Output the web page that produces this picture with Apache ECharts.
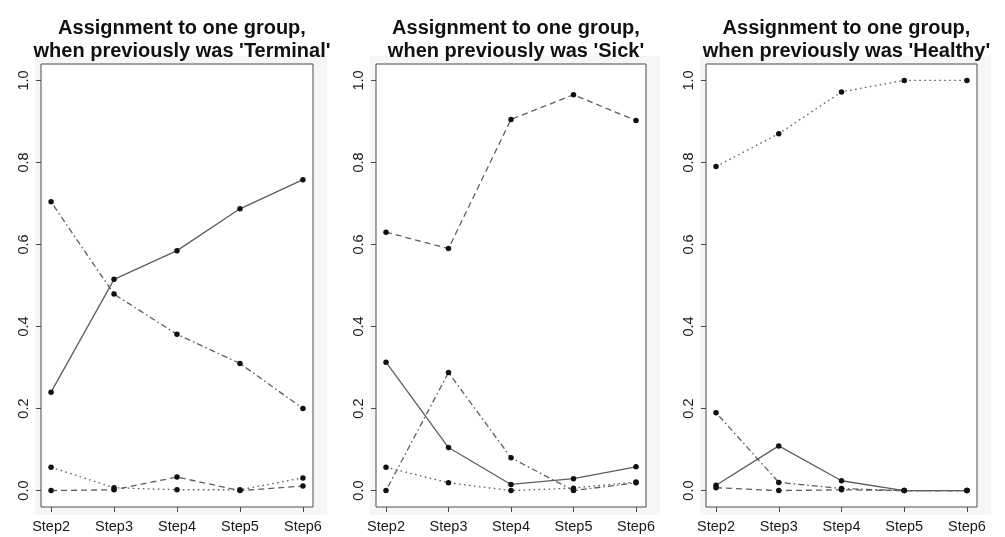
<!DOCTYPE html>
<html>
<head>
<meta charset="utf-8">
<script src="https://cdn.jsdelivr.net/npm/echarts@6/dist/echarts.min.js"></script>
<style>
  html, body { margin: 0; padding: 0; background: #ffffff; }
  #chart { width: 1005px; height: 537px; }
</style>
</head>
<body>
<div id="chart"></div>
<script>
// Steps along the x axis
const steps = ['Step2', 'Step3', 'Step4', 'Step5', 'Step6'];
const yTicks = [0, 0.2, 0.4, 0.6, 0.8, 1.0];

const panelTitles = [
  "Assignment to one group,\nwhen previously was 'Terminal'",
  "Assignment to one group,\nwhen previously was 'Sick'",
  "Assignment to one group,\nwhen previously was 'Healthy'"
];

// Previously 'Terminal'
const terminalSolid   = [0.240, 0.515, 0.585, 0.687, 0.758];
const terminalDashed  = [0.000, 0.002, 0.033, 0.000, 0.011];
const terminalDotted  = [0.057, 0.007, 0.002, 0.002, 0.031];
const terminalDotDash = [0.704, 0.479, 0.381, 0.310, 0.200];

// Previously 'Sick'
const sickSolid   = [0.313, 0.105, 0.015, 0.029, 0.058];
const sickDashed  = [0.630, 0.590, 0.905, 0.965, 0.902];
const sickDotted  = [0.057, 0.019, 0.000, 0.006, 0.021];
const sickDotDash = [0.000, 0.288, 0.080, 0.000, 0.019];

// Previously 'Healthy'
const healthySolid   = [0.013, 0.109, 0.024, 0.000, 0.000];
const healthyDashed  = [0.007, 0.000, 0.002, 0.000, 0.000];
const healthyDotted  = [0.790, 0.870, 0.972, 1.000, 1.000];
const healthyDotDash = [0.190, 0.020, 0.005, 0.000, 0.000];

const panels = [
  { solid: terminalSolid, dashed: terminalDashed, dotted: terminalDotted, dotdash: terminalDotDash },
  { solid: sickSolid, dashed: sickDashed, dotted: sickDotted, dotdash: sickDotDash },
  { solid: healthySolid, dashed: healthyDashed, dotted: healthyDotted, dotdash: healthyDotDash }
];

// plot boxes
const boxes = [
  { left: 41, width: 272 },
  { left: 376, width: 270 },
  { left: 706, width: 271 }
];
const boxTop = 64, boxHeight = 443;

const lineStyles = {
  solid:   'solid',
  dashed:  [6, 4],
  dotted:  [1.6, 3.4],
  dotdash: [1.6, 3, 6, 3]
};

const FONT = '"Liberation Sans", Arial, Helvetica, sans-serif';
const LINE_COLOR = '#5e5e5e';

const grids = [], xAxes = [], yAxes = [], series = [], titles = [], bgRects = [];

boxes.forEach((b, i) => {
  grids.push({
    left: b.left, top: boxTop, width: b.width, height: boxHeight,
    show: true, borderColor: '#4a4a4a', borderWidth: 1, backgroundColor: '#ffffff'
  });
  bgRects.push({
    type: 'rect', silent: true, z: -10,
    shape: { x: b.left - 6, y: boxTop - 8, width: b.width + 20, height: boxHeight + 16 },
    style: { fill: '#f6f6f6' }
  });
  xAxes.push({
    gridIndex: i, type: 'value', min: 0.84, max: 5.16, position: 'bottom',
    axisLine: { show: false, onZero: false },
    splitLine: { show: false },
    axisTick: { show: true, length: 5, inside: false, customValues: [1, 2, 3, 4, 5],
                lineStyle: { color: '#4a4a4a', width: 1 } },
    axisLabel: {
      show: true, customValues: [1, 2, 3, 4, 5], margin: 12,
      color: '#1a1a1a', fontFamily: FONT, fontSize: 14.5,
      formatter: v => steps[Math.round(v) - 1]
    }
  });
  yAxes.push({
    gridIndex: i, type: 'value', min: -0.04, max: 1.04, position: 'left',
    axisLine: { show: false, onZero: false },
    splitLine: { show: false },
    axisTick: { show: true, length: 5, inside: false, customValues: yTicks,
                lineStyle: { color: '#4a4a4a', width: 1 } },
    axisLabel: {
      show: true, customValues: yTicks, rotate: 90, margin: 10,
      color: '#1a1a1a', fontFamily: FONT, fontSize: 14.5,
      formatter: v => v.toFixed(1)
    }
  });
  titles.push({
    text: panelTitles[i],
    left: b.left + b.width / 2, top: 12, textAlign: 'center',
    textStyle: { fontFamily: FONT, fontSize: 20, fontWeight: 'bold', color: '#111111', lineHeight: 23 }
  });
  ['solid', 'dashed', 'dotted', 'dotdash'].forEach(kind => {
    series.push({
      name: kind, type: 'line', xAxisIndex: i, yAxisIndex: i,
      data: panels[i][kind].map((v, k) => [k + 1, v]),
      symbol: 'circle', symbolSize: 5.5,
      itemStyle: { color: '#111111' },
      lineStyle: { color: LINE_COLOR, width: 1.3, type: lineStyles[kind] },
      animation: false, silent: true
    });
  });
});

const chart = echarts.init(document.getElementById('chart'), null, { renderer: 'canvas' });
chart.setOption({
  backgroundColor: '#ffffff',
  animation: false,
  title: titles,
  grid: grids,
  xAxis: xAxes,
  yAxis: yAxes,
  graphic: bgRects,
  series: series
});
</script>
</body>
</html>
